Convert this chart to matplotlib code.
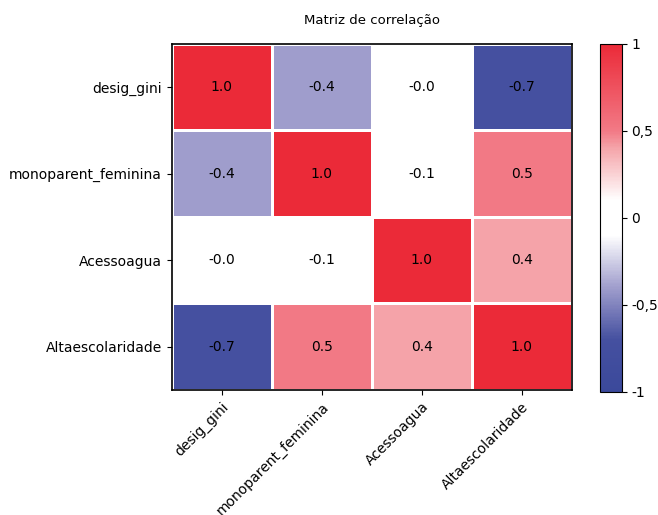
import matplotlib
matplotlib.use("Agg")
import matplotlib.pyplot as plt
import numpy as np
from matplotlib.colors import LinearSegmentedColormap

variables = ["desig_gini", "monoparent_feminina", "Acessoagua", "Altaescolaridade"]
corr = np.array([
    [1.0, -0.4, -0.0, -0.7],
    [-0.4, 1.0, -0.1, 0.5],
    [-0.0, -0.1, 1.0, 0.4],
    [-0.7, 0.5, 0.4, 1.0],
])
cbar_ticks = [-1, -0.5, 0, 0.5, 1]
cbar_labels = ["-1", "-0,5", "0", "0,5", "1"]

# blue -> white -> red, with a flat white band around zero
cmap = LinearSegmentedColormap.from_list("corr_bwr", [
    (0.00, "#3b499b"),
    (0.15, "#4550a0"),
    (0.30, "#a09ecd"),
    (0.45, "#ffffff"),
    (0.55, "#ffffff"),
    (0.70, "#f5a5aa"),
    (0.75, "#f27a86"),
    (1.00, "#eb2a38"),
])

fig = plt.figure(figsize=(6.58, 5.15), dpi=100)
ax = fig.add_axes([0.261, 0.243, 0.608, 0.672])
cax = fig.add_axes([0.912, 0.239, 0.033, 0.676])

n = len(variables)
mesh = ax.pcolormesh(np.arange(n + 1), np.arange(n + 1), corr, cmap=cmap,
                     vmin=-1, vmax=1, edgecolors="white", linewidth=1.0)
ax.set_xlim(0, n)
ax.set_ylim(n, 0)
ax.set_xticks(np.arange(n) + 0.5)
ax.set_yticks(np.arange(n) + 0.5)
ax.set_xticklabels(variables, rotation=45, ha="right", rotation_mode="anchor", fontsize=10)
ax.set_yticklabels(variables, fontsize=10)
for s in ax.spines.values():
    s.set_color("black")
    s.set_linewidth(1.2)

for i in range(n):
    for j in range(n):
        ax.text(j + 0.5, i + 0.5, f"{corr[i, j]:.1f}", ha="center", va="center",
                fontsize=10, color="black")

ax.set_title("Matriz de correlação", fontsize=9.5, pad=14)

cb = fig.colorbar(mesh, cax=cax, ticks=cbar_ticks)
cb.ax.set_yticklabels(cbar_labels, fontsize=10)
cb.outline.set_edgecolor("black")

fig.savefig("out.png", dpi=100)
